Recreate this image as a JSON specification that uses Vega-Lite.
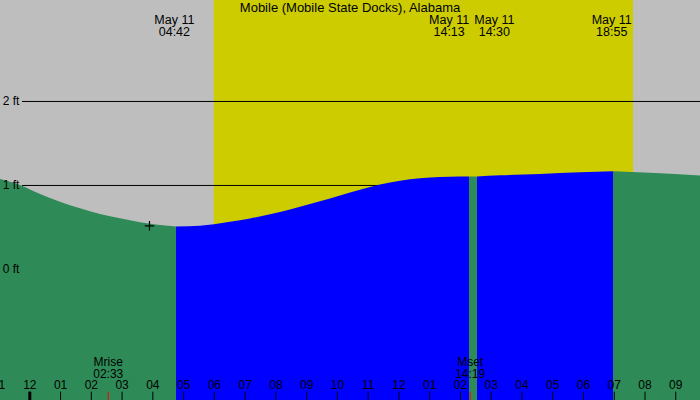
{
  "$schema": "https://vega.github.io/schema/vega-lite/v6.json",
  "width": 700,
  "height": 400,
  "padding": 0,
  "autosize": {"type": "none"},
  "background": "#BEBEBE",
  "config": {"view": {"stroke": null}, "text": {"font": "Liberation Sans", "color": "#000000"}},
  "datasets": {
    "daylight": [{"sunrise": 5.979, "sunset": 19.61}],
    "levels": [{"ft": 2, "label": "2 ft"}, {"ft": 1, "label": "1 ft"}, {"ft": 0, "label": "0 ft"}],
    "tide": [
      {"seg": "A", "phase": "ebb", "h": -0.969, "ft": 1.077},
      {"seg": "A", "phase": "ebb", "h": -0.319, "ft": 1.006},
      {"seg": "A", "phase": "ebb", "h": 0.332, "ft": 0.899},
      {"seg": "A", "phase": "ebb", "h": 0.982, "ft": 0.807},
      {"seg": "A", "phase": "ebb", "h": 1.632, "ft": 0.729},
      {"seg": "A", "phase": "ebb", "h": 2.282, "ft": 0.661},
      {"seg": "A", "phase": "ebb", "h": 2.932, "ft": 0.61},
      {"seg": "A", "phase": "ebb", "h": 3.583, "ft": 0.562},
      {"seg": "A", "phase": "ebb", "h": 4.233, "ft": 0.53},
      {"seg": "A", "phase": "ebb", "h": 4.753, "ft": 0.512},
      {"seg": "B", "phase": "flood", "h": 4.753, "ft": 0.512},
      {"seg": "B", "phase": "flood", "h": 5.533, "ft": 0.521},
      {"seg": "B", "phase": "flood", "h": 5.988, "ft": 0.538},
      {"seg": "B", "phase": "flood", "h": 6.508, "ft": 0.568},
      {"seg": "B", "phase": "flood", "h": 7.159, "ft": 0.608},
      {"seg": "B", "phase": "flood", "h": 7.809, "ft": 0.656},
      {"seg": "B", "phase": "flood", "h": 8.459, "ft": 0.715},
      {"seg": "B", "phase": "flood", "h": 9.109, "ft": 0.779},
      {"seg": "B", "phase": "flood", "h": 9.759, "ft": 0.846},
      {"seg": "B", "phase": "flood", "h": 10.41, "ft": 0.917},
      {"seg": "B", "phase": "flood", "h": 11.06, "ft": 0.983},
      {"seg": "B", "phase": "flood", "h": 11.71, "ft": 1.035},
      {"seg": "B", "phase": "flood", "h": 12.36, "ft": 1.074},
      {"seg": "B", "phase": "flood", "h": 13.01, "ft": 1.096},
      {"seg": "B", "phase": "flood", "h": 13.66, "ft": 1.105},
      {"seg": "B", "phase": "flood", "h": 14.278, "ft": 1.107},
      {"seg": "C", "phase": "ebb", "h": 14.278, "ft": 1.107},
      {"seg": "C", "phase": "ebb", "h": 14.538, "ft": 1.106},
      {"seg": "D", "phase": "flood", "h": 14.538, "ft": 1.106},
      {"seg": "D", "phase": "flood", "h": 15.29, "ft": 1.121},
      {"seg": "D", "phase": "flood", "h": 16.59, "ft": 1.137},
      {"seg": "D", "phase": "flood", "h": 17.89, "ft": 1.157},
      {"seg": "D", "phase": "flood", "h": 18.96, "ft": 1.169},
      {"seg": "E", "phase": "ebb", "h": 18.96, "ft": 1.169},
      {"seg": "E", "phase": "ebb", "h": 20.16, "ft": 1.152},
      {"seg": "E", "phase": "ebb", "h": 21.788, "ft": 1.12}
    ],
    "marker": [{"h": 3.891, "ft": 0.52}],
    "title": [{"h": 10.41, "text": "Mobile (Mobile State Docks), Alabama"}],
    "events": [
      {"h": 4.7, "date": "May 11", "time": "04:42"},
      {"h": 14.217, "date": "May 11", "time": "14:13"},
      {"h": 14.5, "date": "May 11", "time": "14:30"},
      {"h": 18.917, "date": "May 11", "time": "18:55"}
    ],
    "hours": [
      {"h": -1, "label": "11"}, {"h": 0, "label": "12"}, {"h": 1, "label": "01"}, {"h": 2, "label": "02"},
      {"h": 3, "label": "03"}, {"h": 4, "label": "04"}, {"h": 5, "label": "05"}, {"h": 6, "label": "06"},
      {"h": 7, "label": "07"}, {"h": 8, "label": "08"}, {"h": 9, "label": "09"}, {"h": 10, "label": "10"},
      {"h": 11, "label": "11"}, {"h": 12, "label": "12"}, {"h": 13, "label": "01"}, {"h": 14, "label": "02"},
      {"h": 15, "label": "03"}, {"h": 16, "label": "04"}, {"h": 17, "label": "05"}, {"h": 18, "label": "06"},
      {"h": 19, "label": "07"}, {"h": 20, "label": "08"}, {"h": 21, "label": "09"}
    ],
    "moon": [
      {"h": 2.55, "event": "Mrise", "time": "02:33"},
      {"h": 14.317, "event": "Mset", "time": "14:19"}
    ]
  },
  "layer": [
    {
      "data": {"name": "daylight"},
      "mark": {"type": "rect", "color": "#CCCC00"},
      "encoding": {
        "x": {"field": "sunrise", "type": "quantitative", "scale": {"domain": [-0.969, 21.788], "nice": false, "zero": false}, "axis": null},
        "x2": {"field": "sunset"}
      }
    },
    {
      "data": {"name": "levels"},
      "mark": {"type": "rule", "color": "#000000", "strokeWidth": 1},
      "encoding": {
        "x": {"datum": -0.254, "type": "quantitative", "scale": {"domain": [-0.969, 21.788], "nice": false, "zero": false}, "axis": null},
        "x2": {"datum": 21.788},
        "y": {"field": "ft", "type": "quantitative", "scale": {"domain": [-1.554, 3.208], "nice": false, "zero": false}, "axis": null}
      }
    },
    {
      "data": {"name": "tide"},
      "mark": {"type": "area", "interpolate": "monotone"},
      "encoding": {
        "x": {"field": "h", "type": "quantitative", "scale": {"domain": [-0.969, 21.788], "nice": false, "zero": false}, "axis": null},
        "y": {"field": "ft", "type": "quantitative", "scale": {"domain": [-1.554, 3.208], "nice": false, "zero": false}, "axis": null},
        "y2": {"datum": -1.554},
        "color": {"field": "phase", "type": "nominal", "scale": {"domain": ["ebb", "flood"], "range": ["#2E8B57", "#0000FF"]}, "legend": null},
        "detail": {"field": "seg"}
      }
    },
    {
      "data": {"name": "levels"},
      "mark": {"type": "text", "align": "left", "baseline": "middle", "fontSize": 12},
      "encoding": {
        "x": {"datum": -0.881, "type": "quantitative", "scale": {"domain": [-0.969, 21.788], "nice": false, "zero": false}, "axis": null},
        "y": {"field": "ft", "type": "quantitative", "scale": {"domain": [-1.554, 3.208], "nice": false, "zero": false}, "axis": null},
        "text": {"field": "label"}
      }
    },
    {
      "data": {"name": "marker"},
      "mark": {"type": "point", "shape": "M-1,0L1,0M0,-1L0,1", "size": 90, "stroke": "#000000", "strokeWidth": 1.2, "filled": false, "opacity": 1},
      "encoding": {
        "x": {"field": "h", "type": "quantitative", "scale": {"domain": [-0.969, 21.788], "nice": false, "zero": false}, "axis": null},
        "y": {"field": "ft", "type": "quantitative", "scale": {"domain": [-1.554, 3.208], "nice": false, "zero": false}, "axis": null}
      }
    },
    {
      "data": {"name": "title"},
      "mark": {"type": "text", "align": "center", "baseline": "alphabetic", "fontSize": 13},
      "encoding": {
        "x": {"field": "h", "type": "quantitative", "scale": {"domain": [-0.969, 21.788], "nice": false, "zero": false}, "axis": null},
        "y": {"datum": 3.065, "type": "quantitative", "scale": {"domain": [-1.554, 3.208], "nice": false, "zero": false}, "axis": null},
        "text": {"field": "text"}
      }
    },
    {
      "data": {"name": "events"},
      "transform": [{"filter": "datum.time != '14:13' && datum.time != '14:30'"}],
      "mark": {"type": "text", "align": "center", "baseline": "alphabetic", "fontSize": 12.5},
      "encoding": {
        "x": {"field": "h", "type": "quantitative", "scale": {"domain": [-0.969, 21.788], "nice": false, "zero": false}, "axis": null},
        "y": {"datum": 2.923, "type": "quantitative", "scale": {"domain": [-1.554, 3.208], "nice": false, "zero": false}, "axis": null},
        "text": {"field": "date"}
      }
    },
    {
      "data": {"name": "events"},
      "transform": [{"filter": "datum.time != '14:13' && datum.time != '14:30'"}],
      "mark": {"type": "text", "align": "center", "baseline": "alphabetic", "fontSize": 12.5},
      "encoding": {
        "x": {"field": "h", "type": "quantitative", "scale": {"domain": [-0.969, 21.788], "nice": false, "zero": false}, "axis": null},
        "y": {"datum": 2.774, "type": "quantitative", "scale": {"domain": [-1.554, 3.208], "nice": false, "zero": false}, "axis": null},
        "text": {"field": "time"}
      }
    },
    {
      "data": {"name": "events"},
      "transform": [{"filter": "datum.time == '14:13'"}],
      "mark": {"type": "text", "align": "center", "baseline": "alphabetic", "fontSize": 12.5, "dx": -18},
      "encoding": {
        "x": {"field": "h", "type": "quantitative", "scale": {"domain": [-0.969, 21.788], "nice": false, "zero": false}, "axis": null},
        "y": {"datum": 2.923, "type": "quantitative", "scale": {"domain": [-1.554, 3.208], "nice": false, "zero": false}, "axis": null},
        "text": {"field": "date"}
      }
    },
    {
      "data": {"name": "events"},
      "transform": [{"filter": "datum.time == '14:13'"}],
      "mark": {"type": "text", "align": "center", "baseline": "alphabetic", "fontSize": 12.5, "dx": -18},
      "encoding": {
        "x": {"field": "h", "type": "quantitative", "scale": {"domain": [-0.969, 21.788], "nice": false, "zero": false}, "axis": null},
        "y": {"datum": 2.774, "type": "quantitative", "scale": {"domain": [-1.554, 3.208], "nice": false, "zero": false}, "axis": null},
        "text": {"field": "time"}
      }
    },
    {
      "data": {"name": "events"},
      "transform": [{"filter": "datum.time == '14:30'"}],
      "mark": {"type": "text", "align": "center", "baseline": "alphabetic", "fontSize": 12.5, "dx": 18.5},
      "encoding": {
        "x": {"field": "h", "type": "quantitative", "scale": {"domain": [-0.969, 21.788], "nice": false, "zero": false}, "axis": null},
        "y": {"datum": 2.923, "type": "quantitative", "scale": {"domain": [-1.554, 3.208], "nice": false, "zero": false}, "axis": null},
        "text": {"field": "date"}
      }
    },
    {
      "data": {"name": "events"},
      "transform": [{"filter": "datum.time == '14:30'"}],
      "mark": {"type": "text", "align": "center", "baseline": "alphabetic", "fontSize": 12.5, "dx": 18.5},
      "encoding": {
        "x": {"field": "h", "type": "quantitative", "scale": {"domain": [-0.969, 21.788], "nice": false, "zero": false}, "axis": null},
        "y": {"datum": 2.774, "type": "quantitative", "scale": {"domain": [-1.554, 3.208], "nice": false, "zero": false}, "axis": null},
        "text": {"field": "time"}
      }
    },
    {
      "data": {"name": "hours"},
      "mark": {"type": "rule", "color": "#000000", "strokeWidth": 1},
      "encoding": {
        "x": {"field": "h", "type": "quantitative", "scale": {"domain": [-0.969, 21.788], "nice": false, "zero": false}, "axis": null},
        "y": {"datum": -1.554, "type": "quantitative", "scale": {"domain": [-1.554, 3.208], "nice": false, "zero": false}, "axis": null},
        "y2": {"datum": -1.455}
      }
    },
    {
      "data": {"name": "hours"},
      "transform": [{"filter": "datum.h == 0"}],
      "mark": {"type": "rule", "color": "#000000", "strokeWidth": 3},
      "encoding": {
        "x": {"field": "h", "type": "quantitative", "scale": {"domain": [-0.969, 21.788], "nice": false, "zero": false}, "axis": null},
        "y": {"datum": -1.554, "type": "quantitative", "scale": {"domain": [-1.554, 3.208], "nice": false, "zero": false}, "axis": null},
        "y2": {"datum": -1.455}
      }
    },
    {
      "data": {"name": "moon"},
      "mark": {"type": "rule", "color": "#FF0000", "strokeWidth": 1},
      "encoding": {
        "x": {"field": "h", "type": "quantitative", "scale": {"domain": [-0.969, 21.788], "nice": false, "zero": false}, "axis": null},
        "y": {"datum": -1.554, "type": "quantitative", "scale": {"domain": [-1.554, 3.208], "nice": false, "zero": false}, "axis": null},
        "y2": {"datum": -1.455}
      }
    },
    {
      "data": {"name": "hours"},
      "mark": {"type": "text", "align": "center", "baseline": "alphabetic", "fontSize": 12, "clip": true},
      "encoding": {
        "x": {"field": "h", "type": "quantitative", "scale": {"domain": [-0.969, 21.788], "nice": false, "zero": false}, "axis": null},
        "y": {"datum": -1.426, "type": "quantitative", "scale": {"domain": [-1.554, 3.208], "nice": false, "zero": false}, "axis": null},
        "text": {"field": "label"}
      }
    },
    {
      "data": {"name": "moon"},
      "mark": {"type": "text", "align": "center", "baseline": "alphabetic", "fontSize": 12},
      "encoding": {
        "x": {"field": "h", "type": "quantitative", "scale": {"domain": [-0.969, 21.788], "nice": false, "zero": false}, "axis": null},
        "y": {"datum": -1.145, "type": "quantitative", "scale": {"domain": [-1.554, 3.208], "nice": false, "zero": false}, "axis": null},
        "text": {"field": "event"}
      }
    },
    {
      "data": {"name": "moon"},
      "mark": {"type": "text", "align": "center", "baseline": "alphabetic", "fontSize": 12},
      "encoding": {
        "x": {"field": "h", "type": "quantitative", "scale": {"domain": [-0.969, 21.788], "nice": false, "zero": false}, "axis": null},
        "y": {"datum": -1.288, "type": "quantitative", "scale": {"domain": [-1.554, 3.208], "nice": false, "zero": false}, "axis": null},
        "text": {"field": "time"}
      }
    }
  ]
}
